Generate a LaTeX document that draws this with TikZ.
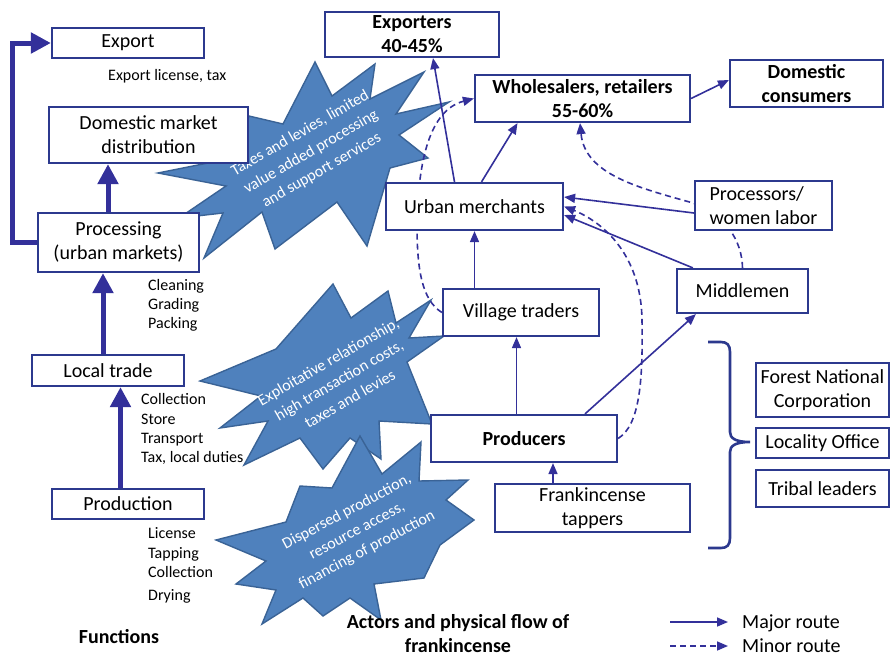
\documentclass[tikz,border=0pt]{standalone}
\usepackage{fontspec}
\setmainfont{Carlito}
\usetikzlibrary{arrows.meta}
\definecolor{boxc}{HTML}{2C398E}
\definecolor{flowc}{HTML}{33309A}
\definecolor{burstfill}{HTML}{4F81BD}
\definecolor{burstline}{HTML}{3A6396}
\pgfdeclarelayer{bursts}
\pgfdeclarelayer{lines}
\pgfsetlayers{bursts,lines,main}
\newcommand{\bigfont}{\fontsize{20}{24}\selectfont}
\newcommand{\smallfont}{\fontsize{16}{19.5}\selectfont}
\newcommand{\burstfont}{\fontsize{16}{21.5}\selectfont}
\tikzset{
  box/.style={draw=boxc, line width=2.2pt, fill=white, inner sep=0pt, align=center, font=\bigfont},
  boldbox/.style={box, font=\bigfont\bfseries},
  note/.style={anchor=west, inner sep=0pt, font=\smallfont, text height=10.3pt, text depth=0pt},
  legendtext/.style={anchor=west, inner sep=0pt, font=\bigfont, text height=12.9pt, text depth=0pt},
  major/.style={draw=flowc, line width=1.6pt, -{Triangle[length=11pt,width=9pt]}},
  minor/.style={major, dash pattern=on 6pt off 4pt},
  thick flow/.style={draw=flowc, line width=5pt, line join=miter, -{Triangle[length=20pt,width=20pt]}},
  burst/.style={fill=burstfill, draw=burstline, line width=1.4pt, line join=miter},
  bursttext/.style={text=white, font=\burstfont, align=center, inner sep=0pt},
  title/.style={font=\bigfont\bfseries, align=center, inner sep=0pt},
  brace line/.style={draw=boxc, line width=2.6pt},
}
\begin{document}
\begin{tikzpicture}[x=1pt,y=-1pt]
\useasboundingbox (0,0) rectangle (892,656);

% ---- functions column ----
\node[box, minimum width=152pt, minimum height=30pt] (export) at (128,43) {Export};
\node[box, minimum width=199pt, minimum height=56pt] (dom) at (148.5,135) {Domestic market\\distribution};
\node[box, minimum width=161pt, minimum height=59pt] (proc) at (118.5,242.5) {Processing\\(urban markets)};
\node[box, minimum width=152pt, minimum height=31pt] (local) at (108,370.5) {Local trade};
\node[box, minimum width=152pt, minimum height=30pt] (prodn) at (128,504) {Production};

\node[note] (n1) at (108,75) {Export license, tax};
\node[note] (n2) at (148,285) {Cleaning};
\node[note] (n3) at (148,304) {Grading};
\node[note] (n4) at (148,323) {Packing};
\node[note] (n5) at (141,399) {Collection};
\node[note] (n6) at (141,419) {Store};
\node[note] (n7) at (141,438) {Transport};
\node[note] (n8) at (141,457) {Tax, local duties};
\node[note] (n9) at (148,533) {License};
\node[note] (n10) at (148,553) {Tapping};
\node[note] (n11) at (148,572) {Collection};
\node[note] (n12) at (148,595) {Drying};

% ---- actors ----
\node[boldbox, minimum width=174pt, minimum height=45pt] (exporters) at (412,34.5) {Exporters\\40-45\%};
\node[boldbox, minimum width=215pt, minimum height=47pt] (whole) at (582.5,98.5) {Wholesalers, retailers\\55-60\%};
\node[boldbox, minimum width=153pt, minimum height=47pt] (domcons) at (806.5,83.5) {Domestic\\consumers};
\node[box, minimum width=177pt, minimum height=47pt] (urban) at (474.5,206.5) {Urban merchants};
\node[box, minimum width=137pt, minimum height=49pt, align=left] (procw) at (763.5,205.5) {Processors/\\women labor};
\node[box, minimum width=131pt, minimum height=44pt] (middle) at (742.5,291) {Middlemen};
\node[box, minimum width=156pt, minimum height=47pt] (village) at (521,312.5) {Village traders};
\node[boldbox, minimum width=186pt, minimum height=47pt] (producers) at (524,438.5) {Producers};
\node[box, minimum width=195pt, minimum height=48pt] (tappers) at (592.5,508) {Frankincense\\tappers};

% ---- institutions ----
\node[box, minimum width=133pt, minimum height=54pt] (fnc) at (822.5,390) {Forest National\\Corporation};
\node[box, minimum width=133pt, minimum height=30pt] (loc) at (822.5,443) {Locality Office};
\node[box, minimum width=133pt, minimum height=37pt] (trib) at (822.5,488.5) {Tribal leaders};
\draw[brace line] (708,342) -- (721,342) .. controls (727,342) and (730,345) .. (730,352) -- (730,432)
  .. controls (730,438) and (735,442) .. (750,442) .. controls (735,442) and (730,446) .. (730,452)
  -- (730,538) .. controls (730,545) and (727,548) .. (721,548) -- (708,548);

% ---- captions and legend ----
\node[title] (fnlabel) at (119,637) {Functions};
\node[title] (actlabel) at (458,634) {Actors and physical flow of\\frankincense};
\coordinate (majA) at (670,622);
\coordinate (majB) at (728,622);
\coordinate (minA) at (670,646);
\coordinate (minB) at (728,646);
\node[legendtext] (majT) at (742,622) {Major route};
\node[legendtext] (minT) at (742,646) {Minor route};

\begin{pgfonlayer}{lines}
  % function chain
  \draw[thick flow] ([xshift=-10.5pt]proc.north) -- ([xshift=-40.5pt]dom.south);
  \draw[thick flow] ([xshift=-5pt]local.north) -- ([xshift=-15.5pt]proc.south);
  \draw[thick flow] ([xshift=-7.5pt]prodn.north) -- ([xshift=12.5pt]local.south);
  \draw[thick flow] (proc.west) -- ++(-24,0) |- (export.west);
  % major routes
  \draw[major] ([xshift=-20pt]urban.north) -- ([xshift=21pt]exporters.south);
  \draw[major] ([xshift=7pt]urban.north) -- ([xshift=-65pt]whole.south);
  \draw[major] (whole.east) -- ([yshift=3.5pt]domcons.west);
  \draw[major] ([yshift=-7.5pt]procw.west) -- ([yshift=9.5pt]urban.east);
  \draw[major] ([xshift=17pt]middle.north west) -- ([yshift=-8.5pt]urban.east);
  \draw[major] (village.north -| urban.south) -- (urban.south);
  \draw[major] ([xshift=-7.5pt]producers.north) -- ([xshift=-4.5pt]village.south);
  \draw[major] ([xshift=61pt]producers.north) -- ([xshift=20pt]middle.south west);
  \draw[major] ([xshift=-39.5pt]tappers.north) -- ([xshift=29pt]producers.south);
  % minor routes
  \draw[minor] (village.west) .. controls (422,300) and (417,270) .. (417,225)
    .. controls (418,160) and (430,110) .. (whole.west);
  \draw[minor] (middle.north) .. controls (742,240) and (725,215) .. (693,203)
    .. controls (640,188) and (585,175) .. ([xshift=-2.5pt]whole.south);
  \draw[minor] (producers.east) .. controls (640,425) and (643,380) .. (642,320)
    .. controls (641,250) and (598,220) .. (urban.east);
  % legend
  \draw[major] (majA) -- (majB);
  \draw[minor] (minA) -- (minB);
\end{pgfonlayer}

\begin{pgfonlayer}{bursts}
  \draw[burst] (315,62) -- (332,96) -- (375,64) -- (370,99) -- (424,72) -- (396,114) -- (449,102)
    -- (399,135) -- (428,158) -- (390,168) -- (367,246) -- (337,202) -- (275,249) -- (262,212)
    -- (204,258) -- (223,213) -- (179,218) -- (226,186) -- (158,173) -- (238,157) -- (249,116)
    -- (283,124) -- cycle;
  \node[bursttext, rotate=30] (b1) at (311,152) {Taxes and levies, limited\\value added processing\\and support services};
  \draw[burst] (200,381) -- (276,349) -- (333,284) -- (351,318) -- (388,291) -- (396,323) -- (431,300)
    -- (409,338) -- (444,336) -- (407,362) -- (432,424) -- (379,421) -- (381,459) -- (350,438)
    -- (323,469) -- (300,438) -- (244,465) -- (268,421) -- (220,428) -- (261,396) -- cycle;
  \node[bursttext, rotate=30] (b2) at (339,380) {Exploitative relationship,\\high transaction costs,\\taxes and levies};
  \draw[burst] (360,436) -- (382,474) -- (421,442) -- (419,481) -- (468,480) -- (446,500) -- (474,520)
    -- (440,545) -- (424,578) -- (374,584) -- (381,620) -- (350,598) -- (323,616) -- (303,598)
    -- (262,624) -- (276,590) -- (236,584) -- (266,561) -- (216,540) -- (286,522) -- (300,486)
    -- (332,488) -- cycle;
  \node[bursttext, rotate=28] (b3) at (357,531) {Dispersed production,\\resource access,\\financing of production};
\end{pgfonlayer}
\end{tikzpicture}
\end{document}
